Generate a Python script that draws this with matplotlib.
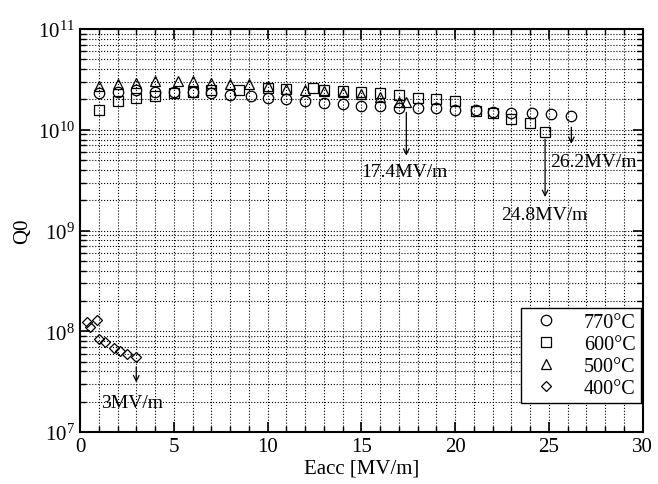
import matplotlib
matplotlib.use('Agg')
import matplotlib.pyplot as plt
from matplotlib.ticker import MultipleLocator, LogLocator, NullFormatter
import numpy as np

plt.rcParams['font.family'] = ['Liberation Serif', 'DejaVu Serif']
plt.rcParams['mathtext.fontset'] = 'custom'
plt.rcParams['mathtext.rm'] = 'Liberation Serif'
plt.rcParams['mathtext.it'] = 'Liberation Serif:italic'

# 770C
e770 = [1, 2, 3, 4, 5, 6, 7, 8, 9.1, 10, 11, 12, 13, 14, 15, 16, 17, 18, 19, 20, 21.1, 22, 23, 24.1, 25.1, 26.2]
q770 = [2.3e10, 2.4e10, 2.5e10, 2.4e10, 2.4e10, 2.4e10, 2.3e10, 2.24e10, 2.15e10, 2.07e10, 2.0e10,
        1.92e10, 1.85e10, 1.79e10, 1.74e10, 1.74e10, 1.64e10, 1.64e10, 1.64e10, 1.58e10, 1.58e10,
        1.52e10, 1.47e10, 1.47e10, 1.43e10, 1.36e10]
# 600C
e600 = [1, 2, 3, 4, 5, 6, 7, 8.5, 10, 11, 12.4, 13, 14, 15, 16, 17, 18, 19, 20, 21.1, 22, 23, 24, 24.8]
q600 = [1.58e10, 1.92e10, 2.07e10, 2.15e10, 2.32e10, 2.4e10, 2.47e10, 2.47e10, 2.59e10, 2.56e10,
        2.62e10, 2.51e10, 2.44e10, 2.4e10, 2.3e10, 2.24e10, 2.08e10, 2.0e10, 1.94e10, 1.55e10,
        1.47e10, 1.29e10, 1.16e10, 9.6e9]
# 500C
e500 = [1, 2, 3, 4, 5.2, 6, 7, 8, 9, 10, 11, 12, 13, 14, 15, 16, 17, 17.4]
q500 = [2.71e10, 2.82e10, 2.93e10, 3.04e10, 3.04e10, 3.04e10, 2.93e10, 2.82e10, 2.82e10, 2.71e10,
        2.57e10, 2.51e10, 2.45e10, 2.38e10, 2.27e10, 2.1e10, 1.88e10, 1.88e10]
# 400C
e400 = [0.36, 0.54, 0.9, 1.0, 1.35, 1.8, 2.15, 2.5, 3.0]
q400 = [1.24e8, 1.1e8, 1.29e8, 8.4e7, 7.8e7, 6.9e7, 6.4e7, 6.0e7, 5.6e7]

fig = plt.figure(figsize=(6.58, 4.85), dpi=100)
ax = fig.add_axes([0.1216, 0.107, 0.855, 0.831])

mk = dict(linestyle='none', markerfacecolor='none', markeredgecolor='black', markeredgewidth=0.9)
ax.plot(e770, q770, marker='o', markersize=7.5, label='770°C', **mk)
ax.plot(e600, q600, marker='s', markersize=7.0, label='600°C', **mk)
ax.plot(e500, q500, marker='^', markersize=7.5, label='500°C', **mk)
ax.plot(e400, q400, marker='D', markersize=5.5, label='400°C', **mk)

ax.set_yscale('log')
ax.set_xlim(0, 30)
ax.set_ylim(1e7, 1e11)
ax.xaxis.set_major_locator(MultipleLocator(5))
ax.xaxis.set_minor_locator(MultipleLocator(1))
ax.yaxis.set_major_locator(LogLocator(base=10))
ax.yaxis.set_minor_locator(LogLocator(base=10, subs=np.arange(2, 10)))
ax.yaxis.set_minor_formatter(NullFormatter())

ax.grid(True, which='both', linestyle=':', color='black', linewidth=0.8)
ax.tick_params(which='both', direction='in', top=True, right=True, labelsize=15, colors='black')
ax.tick_params(which='major', length=7, width=1.2)
ax.tick_params(which='minor', length=4, width=1.0)
for s in ax.spines.values():
    s.set_linewidth(1.5)

ax.set_xlabel('Eacc [MV/m]', fontsize=15, labelpad=2)
ax.set_ylabel('Q0', fontsize=15, labelpad=4)

arr = dict(arrowstyle='->', color='black', lw=0.9)
ax.annotate('', xy=(17.4, 5.2e9), xytext=(17.4, 1.59e10), arrowprops=arr)
ax.text(17.3, 3.85e9, '17.4MV/m', fontsize=14, ha='center', va='center')
ax.annotate('', xy=(26.2, 6.8e9), xytext=(26.2, 1.13e10), arrowprops=arr)
ax.text(27.35, 4.85e9, '26.2MV/m', fontsize=14, ha='center', va='center')
ax.annotate('', xy=(24.8, 2.02e9), xytext=(24.8, 8.6e9), arrowprops=arr)
ax.text(24.77, 1.44e9, '24.8MV/m', fontsize=14, ha='center', va='center')
ax.annotate('', xy=(3.0, 2.92e7), xytext=(3.0, 4.73e7), arrowprops=arr)
ax.text(2.77, 1.98e7, '3MV/m', fontsize=14, ha='center', va='center')

leg = ax.legend(loc='lower right', bbox_to_anchor=(0.997, 0.072), fontsize=14.5, frameon=True,
                fancybox=False, edgecolor='black', framealpha=1, borderpad=0.25, borderaxespad=0,
                labelspacing=0.15, handletextpad=0.9, handlelength=2.0)
leg.get_frame().set_linewidth(1.0)

fig.savefig('out.png', dpi=100)
